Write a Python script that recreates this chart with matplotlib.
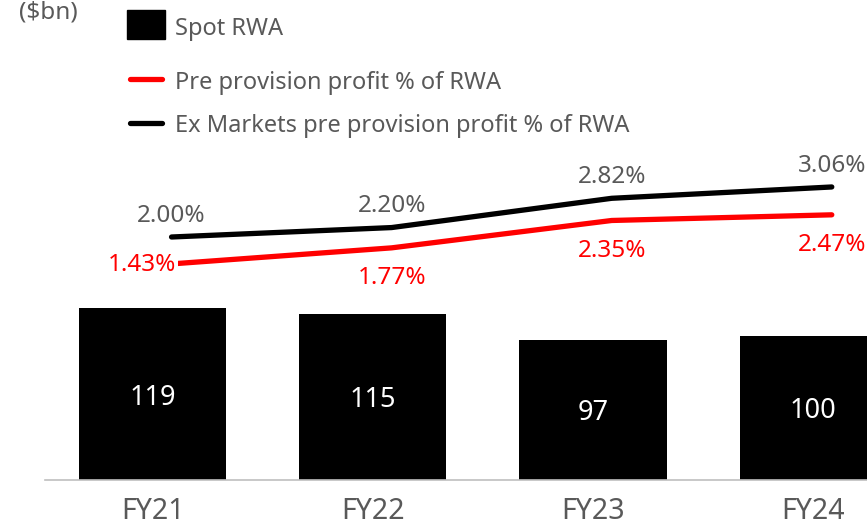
import matplotlib
matplotlib.use("Agg")
import matplotlib.pyplot as plt
from matplotlib.patches import Rectangle
from matplotlib.lines import Line2D

plt.rcParams['font.family'] = ['Noto Sans', 'DejaVu Sans']

years = ["FY21", "FY22", "FY23", "FY24"]
spot_rwa = [119, 115, 97, 100]
ppp_rwa = [1.43, 1.77, 2.35, 2.47]
ex_mkts_ppp_rwa = [2.00, 2.20, 2.82, 3.06]

GREY = "#595959"
RED = "#FF0000"
W, H = 867, 526

fig = plt.figure(figsize=(W / 100, H / 100), dpi=100)
ax = fig.add_axes([45 / W, 46 / H, 822 / W, 480 / H])
ax2 = ax.twinx()

x = list(range(len(years)))
bars = ax.bar(x, spot_rwa, width=0.668, color="black", zorder=2)
for b, v in zip(bars, spot_rwa):
    ax.text(b.get_x() + b.get_width() / 2, v / 2, f"{v}", ha="center",
            va="center_baseline", color="white", fontsize=19.5)

ax.set_xlim(-0.49, 3.245)
ax.set_ylim(0, 332.2)
ax.set_xticks(x)
ax.set_xticklabels(years, fontsize=20.5, color=GREY)
ax.tick_params(axis="x", length=0, pad=12)
ax.set_yticks([])
for s in ["top", "right", "left"]:
    ax.spines[s].set_visible(False)
ax.spines["bottom"].set_color("#BFBFBF")
ax.spines["bottom"].set_linewidth(1.2)

# ratio lines sit slightly right of the bar centres
xl = [i + 0.085 for i in x]
ax2.plot(xl, ex_mkts_ppp_rwa, color="black", lw=3.8, solid_capstyle="round", zorder=3)
ax2.plot(xl, ppp_rwa, color=RED, lw=3.8, solid_capstyle="round", zorder=3)
ax2.set_ylim(-3.148, 7.021)
ax2.set_yticks([])
for s in ax2.spines.values():
    s.set_visible(False)

for xi, v in zip(xl, ex_mkts_ppp_rwa):
    ax2.annotate(f"{v:.2f}%", (xi, v), xytext=(0, 11), textcoords="offset points",
                 ha="center", va="baseline", color=GREY, fontsize=17.5)
for i, (xi, v) in enumerate(zip(xl, ppp_rwa)):
    if i == 0:
        ax2.annotate(f"{v:.2f}%", (xi, v), xytext=(3, -1), textcoords="offset points",
                     ha="right", va="center", color=RED, fontsize=17.5, zorder=4,
                     bbox=dict(boxstyle="square,pad=0.1", fc="white", ec="none"))
    else:
        ax2.annotate(f"{v:.2f}%", (xi, v), xytext=(0, -13), textcoords="offset points",
                     ha="center", va="top", color=RED, fontsize=17.5)

# legend drawn by hand in figure pixels
def fx(px):
    return px / W


def fy(py):
    return 1 - py / H


fig.add_artist(Rectangle((fx(127), fy(39)), 38 / W, 29 / H, transform=fig.transFigure,
                         color="black"))
fig.add_artist(Line2D([fx(130), fx(162)], [fy(79), fy(79)], transform=fig.transFigure,
                      color=RED, lw=3.8, solid_capstyle="round"))
fig.add_artist(Line2D([fx(130), fx(162)], [fy(123), fy(123)], transform=fig.transFigure,
                      color="black", lw=3.8, solid_capstyle="round"))
fig.text(fx(175), fy(35), "Spot RWA", ha="left", va="baseline", color=GREY, fontsize=17)
fig.text(fx(175), fy(89), "Pre provision profit % of RWA", ha="left", va="baseline",
         color=GREY, fontsize=17)
fig.text(fx(175), fy(132), "Ex Markets pre provision profit % of RWA", ha="left",
         va="baseline", color=GREY, fontsize=17)
fig.text(fx(19), fy(19), "($bn)", ha="left", va="baseline", color=GREY, fontsize=17.5)

fig.savefig("out.png", dpi=100)
